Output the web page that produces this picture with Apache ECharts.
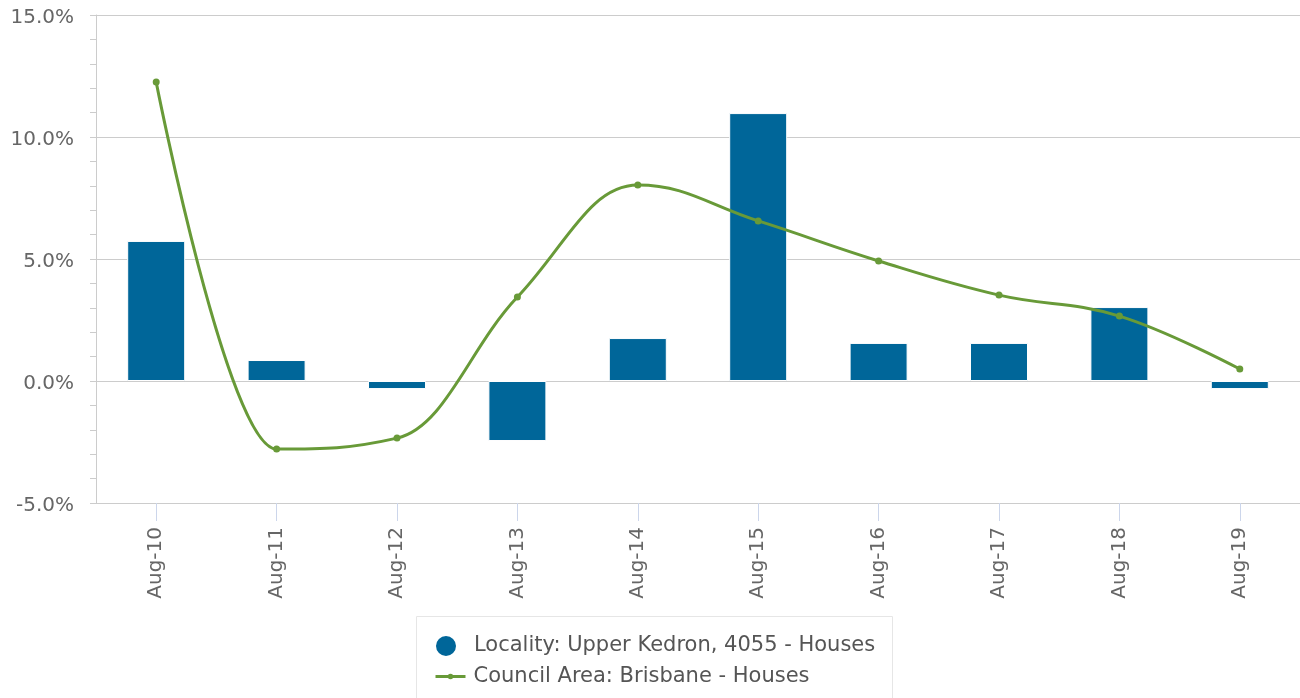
<!DOCTYPE html>
<html>
<head>
<meta charset="utf-8">
<script src="https://cdn.jsdelivr.net/npm/echarts@6/dist/echarts.min.js"></script>
<style>
html,body{margin:0;padding:0;background:#fff;}
#chart{width:1300px;height:698px;}
</style>
</head>
<body>
<div id="chart"></div>
<script>
var categories = ['Aug-10','Aug-11','Aug-12','Aug-13','Aug-14','Aug-15','Aug-16','Aug-17','Aug-18','Aug-19'];
var localityValues = [5.74, 0.86, -0.33, -2.46, 1.76, 10.98, 1.56, 1.56, 3.03, -0.33];
var councilValues = [12.25, -2.79, -2.34, 3.44, 8.03, 6.56, 4.92, 3.52, 2.66, 0.49];
var seriesNames = ['Locality: Upper Kedron, 4055 - Houses', 'Council Area: Brisbane - Houses'];
var yMin = -5, yMax = 15, yInterval = 5;

var GREEN = '#689a38';
var BLUE = '#006699';
var font = "'DejaVu Sans', sans-serif";

// Spline path through points (Highcharts-style control points), computed from axis coordinates
function splinePath(pts) {
  var smoothing = 1.5, denom = smoothing + 1;
  var conts = pts.map(function () { return null; });
  for (var i = 1; i < pts.length - 1; i++) {
    var p = pts[i], l = pts[i - 1], n = pts[i + 1];
    var lcx = (smoothing * p[0] + l[0]) / denom, lcy = (smoothing * p[1] + l[1]) / denom;
    var rcx = (smoothing * p[0] + n[0]) / denom, rcy = (smoothing * p[1] + n[1]) / denom;
    if (rcx !== lcx) {
      var corr = ((rcy - lcy) * (rcx - p[0])) / (rcx - lcx) + p[1] - rcy;
      lcy += corr; rcy += corr;
    }
    if (lcy > l[1] && lcy > p[1]) { lcy = Math.max(l[1], p[1]); rcy = 2 * p[1] - lcy; }
    else if (lcy < l[1] && lcy < p[1]) { lcy = Math.min(l[1], p[1]); rcy = 2 * p[1] - lcy; }
    if (rcy > n[1] && rcy > p[1]) { rcy = Math.max(n[1], p[1]); lcy = 2 * p[1] - rcy; }
    else if (rcy < n[1] && rcy < p[1]) { rcy = Math.min(n[1], p[1]); lcy = 2 * p[1] - rcy; }
    conts[i] = {l: [lcx, lcy], r: [rcx, rcy]};
  }
  var d = 'M' + pts[0][0] + ' ' + pts[0][1];
  for (var j = 1; j < pts.length; j++) {
    var a = conts[j - 1] ? conts[j - 1].r : pts[j - 1];
    var b = conts[j] ? conts[j].l : pts[j];
    d += ' C' + a[0] + ' ' + a[1] + ' ' + b[0] + ' ' + b[1] + ' ' + pts[j][0] + ' ' + pts[j][1];
  }
  return d;
}

var chart = echarts.init(document.getElementById('chart'));
chart.setOption({
  animation: false,
  textStyle: {fontFamily: font},
  grid: {left: 96, right: 0, top: 15, bottom: 195, containLabel: false},
  graphic: [{
    type: 'rect',
    left: 414, top: 614,
    shape: {width: 476, height: 120},
    style: {fill: 'none', stroke: '#e6e6e6', lineWidth: 1},
    silent: true
  }],
  legend: [{
    orient: 'vertical',
    left: 416,
    top: 617,
    padding: [17, 10, 4, 18],
    itemWidth: 30,
    itemHeight: 22,
    textStyle: {fontSize: 21, color: '#555', fontFamily: font, padding: [0, 0, 0, 8]},
    data: [{name: seriesNames[0], icon: 'circle'}]
  }, {
    orient: 'vertical',
    left: 416,
    top: 666,
    padding: [0, 10, 0, 18],
    itemWidth: 30,
    itemHeight: 7,
    textStyle: {fontSize: 21, color: '#555', fontFamily: font, padding: [0, 0, 0, 3]},
    data: [{name: seriesNames[1], lineStyle: {color: GREEN, width: 3, opacity: 1}, itemStyle: {color: GREEN}}]
  }],
  xAxis: {
    type: 'category',
    data: categories,
    boundaryGap: true,
    axisLine: {show: true, onZero: false, lineStyle: {color: '#ccc', width: 1}},
    axisTick: {show: true, alignWithLabel: true, length: 18, lineStyle: {color: '#ccd6eb'}},
    axisLabel: {rotate: 90, fontSize: 20, color: '#666', margin: 24, fontFamily: font},
    splitLine: {show: false}
  },
  yAxis: {
    type: 'value',
    min: yMin,
    max: yMax,
    interval: yInterval,
    axisLine: {show: true, lineStyle: {color: '#ccc'}},
    axisTick: {show: true, length: 6, lineStyle: {color: '#ccc'}},
    minorTick: {show: true, splitNumber: 5, length: 6, lineStyle: {color: '#ccc'}},
    axisLabel: {fontSize: 20, color: '#666', margin: 22, fontFamily: font,
      formatter: function (v) { return '{a|' + v.toFixed(1) + '%}'; },
      rich: {a: {fontSize: 20, color: '#666', fontFamily: font, padding: [6, 0, 0, 0]}}},
    splitLine: {show: true, lineStyle: {color: '#ccc', width: 1}}
  },
  series: [
    {
      name: seriesNames[0],
      type: 'bar',
      data: localityValues,
      barWidth: 58,
      itemStyle: {color: BLUE, borderColor: '#ffffff', borderWidth: 1}
    },
    {
      name: 'splineCurve',
      type: 'custom',
      data: councilValues,
      z: 4,
      silent: true,
      renderItem: function (params, api) {
        if (params.dataIndex !== 0) return null;
        var pts = councilValues.map(function (v, k) { return api.coord([k, v]); });
        return {
          type: 'path',
          shape: {pathData: splinePath(pts)},
          style: {fill: 'none', stroke: GREEN, lineWidth: 3}
        };
      }
    },
    {
      name: seriesNames[1],
      type: 'line',
      data: councilValues,
      symbol: 'circle',
      symbolSize: 7,
      showAllSymbol: true,
      lineStyle: {color: GREEN, width: 3, opacity: 0},
      itemStyle: {color: GREEN},
      z: 5
    }
  ]
});
</script>
</body>
</html>
